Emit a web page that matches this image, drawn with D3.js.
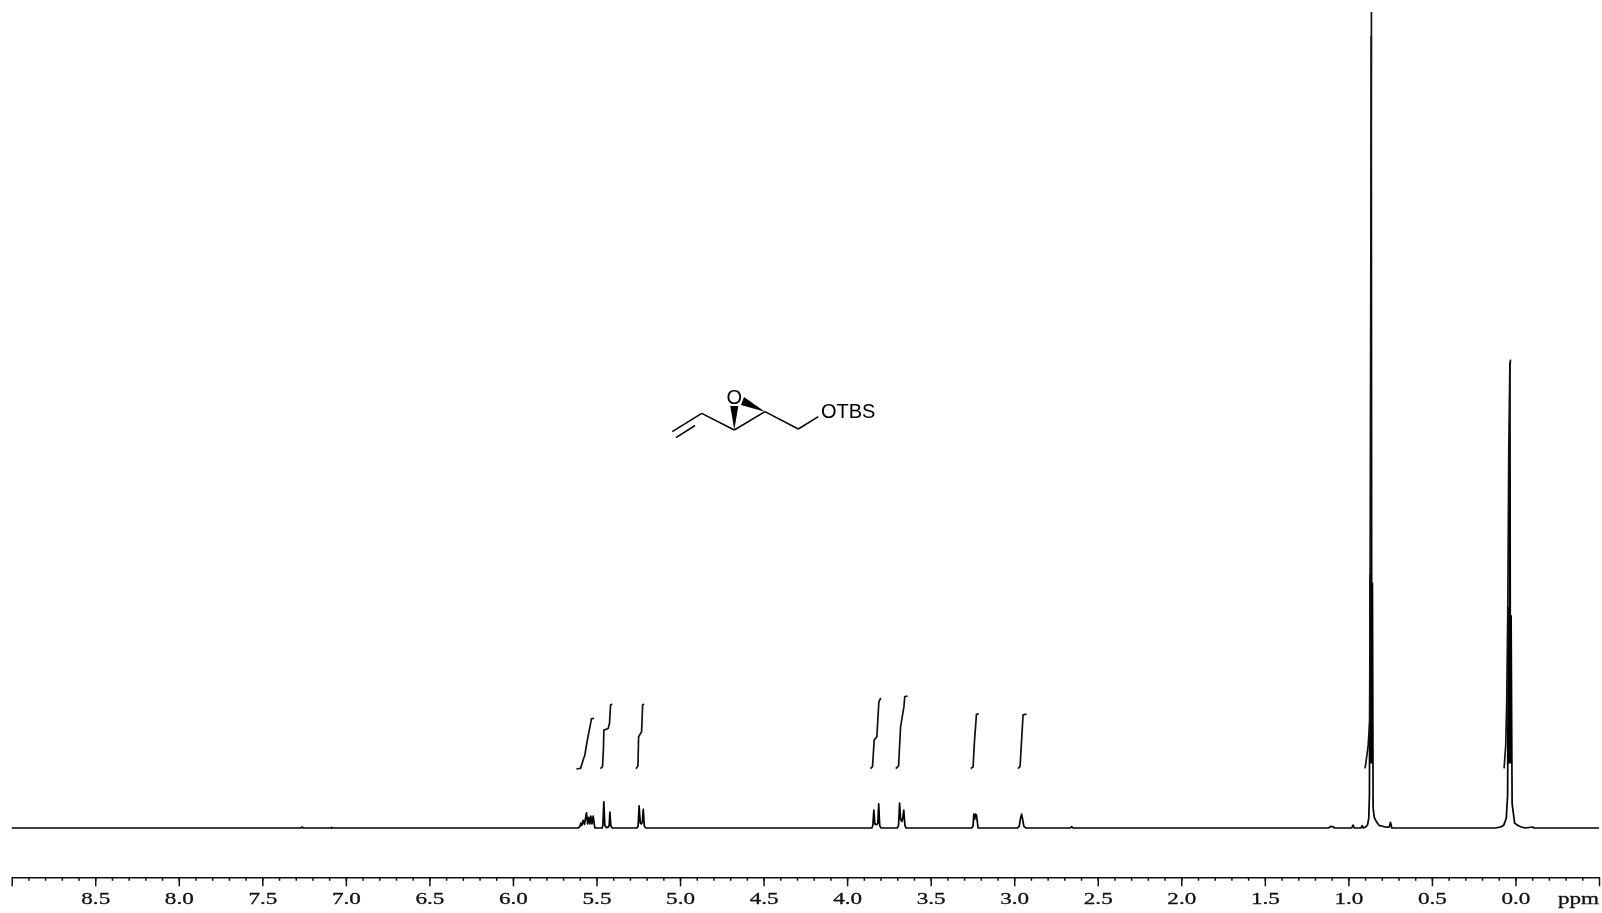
<!DOCTYPE html>
<html lang="en">
<head>
<meta charset="utf-8"/>
<title>1H NMR spectrum</title>
<script src="https://d3js.org/d3.v7.min.js"></script>
<style>
  html, body { margin: 0; padding: 0; background: #fff; }
  svg { display: block; filter: blur(0.55px); }
  .axis path, .axis line { stroke: #111; stroke-width: 1.5; fill: none; }
  .axis text { font-family: "Liberation Serif", serif; font-size: 17px; fill: #111; stroke: #111; stroke-width: 0.3; }
</style>
</head>
<body>
<svg id="chart" width="1602" height="913"></svg>
<script>
// spectrum trace (chemical shift / relative intensity, tallest line ~100)
const specPpm = [9.0, 7.27, 7.262, 7.255, 7.09, 7.085, 7.08, 5.61, 5.6, 5.594, 5.588, 5.58, 5.572, 5.56, 5.553, 5.546, 5.54, 5.534, 5.527, 5.52, 5.51,
  5.466, 5.462, 5.456, 5.45, 5.44, 5.43, 5.424, 5.42, 5.414, 5.405, 5.258, 5.251, 5.245, 5.238, 5.232, 5.226, 5.22, 5.214, 5.205,
  3.852, 3.846, 3.84, 3.834, 3.824, 3.816, 3.811, 3.805, 3.797, 3.7, 3.692, 3.686, 3.68, 3.672, 3.668, 3.661, 3.654, 3.646,
  3.255, 3.246, 3.242, 3.236, 3.232, 3.226, 3.216, 2.98, 2.97, 2.962, 2.956, 2.95, 2.942, 2.93,
  2.665, 2.656, 2.648, 1.12, 1.105, 1.09, 1.085, 0.98, 0.972, 0.965, 0.925, 0.918, 0.91, 0.895, 0.885, 0.878, 0.874, 0.87, 0.866, 0.863, 0.86, 0.856, 0.852, 0.845, 0.83, 0.815, 0.8, 0.78, 0.765, 0.755, 0.748, 0.74,
  0.12, 0.09, 0.07, 0.055, 0.047, 0.042, 0.037, 0.033, 0.03, 0.026, 0.02, 0.005, -0.015, -0.035, -0.06, -0.105, -0.11, -0.115, -0.5];
const specInt = [0, 0, 0.12, 0, 0, 0.08, 0, 0, 0.15, 0.6, 0.3, 0.95, 0.45, 1.85, 0.5, 1.3, 0.5, 1.45, 0.5, 1.45, 0,
  0, 0.3, 3.2, 0.3, 0.05, 0.1, 0.3, 1.95, 0.25, 0, 0, 0.25, 2.7, 0.6, 0.5, 0.7, 2.3, 0.25, 0,
  0, 0.3, 2.2, 0.5, 0.4, 0.6, 2.95, 0.3, 0, 0, 0.3, 3.05, 1.1, 0.8, 1.1, 2.2, 0.3, 0,
  0, 0.25, 1.7, 1.1, 1.7, 1.6, 0, 0, 0.2, 1.2, 1.7, 1.1, 0.2, 0,
  0, 0.18, 0, 0, 0.2, 0.15, 0, 0, 0.35, 0, 0, 0.3, 0, 0.15, 0.4, 1.2, 4, 31, 8, 97, 8, 30, 2.5, 1.3, 0.7, 0.3, 0.25, 0.12, 0.1, 0.12, 0.7, 0,
  0, 0.12, 0.35, 1.2, 4, 27, 8, 57, 8, 26, 3, 0.6, 0.3, 0.12, 0, 0.12, 0, 0, 0];

// integral curves: [ppm], [height]
const integ1Ppm = [5.62, 5.595, 5.58, 5.57, 5.56, 5.547, 5.54, 5.53, 5.515];
const integ1Val = [7.23, 7.31, 8.33, 8.91, 10.17, 11.6, 12.3, 13.4, 13.44];
const integ2Ppm = [5.476, 5.464, 5.458, 5.456, 5.43, 5.422, 5.416, 5.406];
const integ2Val = [7.27, 7.51, 9.96, 12.0, 12.2, 12.83, 15.07, 15.2];
const integ3Ppm = [5.264, 5.252, 5.248, 5.23, 5.224, 5.216];
const integ3Val = [7.27, 7.6, 11.19, 11.8, 15.07, 15.2];
const integ4Ppm = [3.86, 3.848, 3.838, 3.822, 3.81, 3.798];
const integ4Val = [7.27, 7.51, 10.78, 11.19, 15.48, 15.93];
const integ5Ppm = [3.709, 3.692, 3.68, 3.66, 3.655, 3.638];
const integ5Val = [7.27, 7.6, 12.41, 14.87, 16.09, 16.18];
const integ6Ppm = [3.26, 3.246, 3.238, 3.226, 3.212];
const integ6Val = [7.27, 7.51, 10.58, 13.93, 14.0];
const integ7Ppm = [2.978, 2.965, 2.947, 2.926];
const integ7Val = [7.27, 7.51, 13.85, 13.97];
const integ8Ppm = [0.9, 0.882, 0.872, 0.862];
const integ8Val = [7.3, 9.96, 13.2, 100];
const integ9Ppm = [0.068, 0.058, 0.052, 0.046, 0.04, 0.034, 0.03];
const integ9Val = [7.3, 10.2, 15.7, 26.7, 46.3, 55.9, 57.4];
const integrals = [[integ1Ppm, integ1Val], [integ2Ppm, integ2Val], [integ3Ppm, integ3Val], [integ4Ppm, integ4Val],
  [integ5Ppm, integ5Val], [integ6Ppm, integ6Val], [integ7Ppm, integ7Val], [integ8Ppm, integ8Val], [integ9Ppm, integ9Val]];

const majorTicks = [8.5, 8.0, 7.5, 7.0, 6.5, 6.0, 5.5, 5.0, 4.5, 4.0, 3.5, 3.0, 2.5, 2.0, 1.5, 1.0, 0.5, 0.0];

const svg = d3.select('#chart');
const x = d3.scaleLinear().domain([9.0, -0.5]).range([11.7, 1599]);
const y = d3.scaleLinear().domain([0, 100]).range([828, 12]);
const axisY = 877.3;

const line = d3.line().x(d => x(d[0])).y(d => y(d[1]));

// spectrum
svg.append('path')
  .datum(d3.zip(specPpm, specInt))
  .attr('d', line)
  .attr('fill', 'none')
  .attr('stroke', '#000')
  .attr('stroke-width', 1.7)
  .attr('stroke-linejoin', 'round');

// integrals
svg.append('g').selectAll('path')
  .data(integrals)
  .enter()
  .append('path')
  .attr('d', d => line(d3.zip(d[0], d[1])))
  .attr('fill', 'none')
  .attr('stroke', '#111')
  .attr('stroke-width', 1.7);

// ppm axis, minor ticks then major ones with the labels
const minorTicks = d3.range(-4, 90).map(d => d / 10);
svg.append('g')
  .attr('class', 'axis')
  .attr('transform', 'translate(0,' + axisY + ')')
  .call(d3.axisBottom(x).tickValues(minorTicks).tickSize(3.5).tickSizeOuter(9).tickFormat(''));

const major = svg.append('g')
  .attr('class', 'axis')
  .attr('transform', 'translate(0,' + axisY + ')')
  .call(d3.axisBottom(x).tickValues(majorTicks).tickSize(9).tickSizeOuter(0).tickFormat(d3.format('.1f')));
major.select('.domain').remove();
major.selectAll('text')
  .attr('y', null).attr('dy', null)
  .attr('text-anchor', 'middle')
  .attr('transform', 'translate(0,26.7) scale(1.36,1)');

svg.append('text')
  .attr('transform', 'translate(1558,' + (axisY + 26.7) + ') scale(1.36,1)')
  .attr('font-family', '"Liberation Serif", serif')
  .attr('font-size', 17)
  .attr('fill', '#111')
  .attr('stroke', '#111')
  .attr('stroke-width', 0.3)
  .text('ppm');

// structure drawing
const mol = svg.append('g');
const bonds = [[672.3, 431.7, 701.7, 413.3], [676, 437.7, 695, 425.5], [701.7, 413.3, 734.3, 430],
  [734.3, 430, 765, 411.7], [765, 411.7, 798.3, 429], [798.3, 429, 818.3, 416.7]];
mol.selectAll('line').data(bonds).enter().append('line')
  .attr('x1', d => d[0]).attr('y1', d => d[1]).attr('x2', d => d[2]).attr('y2', d => d[3])
  .attr('stroke', '#000').attr('stroke-width', 1.5);
const wedges = ['734.3,430 730.3,406 738.3,406', '765,411.7 744,397 741,405'];
mol.selectAll('polygon').data(wedges).enter().append('polygon')
  .attr('points', d => d).attr('fill', '#000');
mol.append('text').attr('x', 734.3).attr('y', 404).attr('text-anchor', 'middle')
  .attr('font-family', '"Liberation Sans", sans-serif').attr('font-size', 20).attr('fill', '#000').text('O');
mol.append('text').attr('x', 821).attr('y', 418)
  .attr('font-family', '"Liberation Sans", sans-serif').attr('font-size', 20).attr('fill', '#000').text('OTBS');
</script>
</body>
</html>
